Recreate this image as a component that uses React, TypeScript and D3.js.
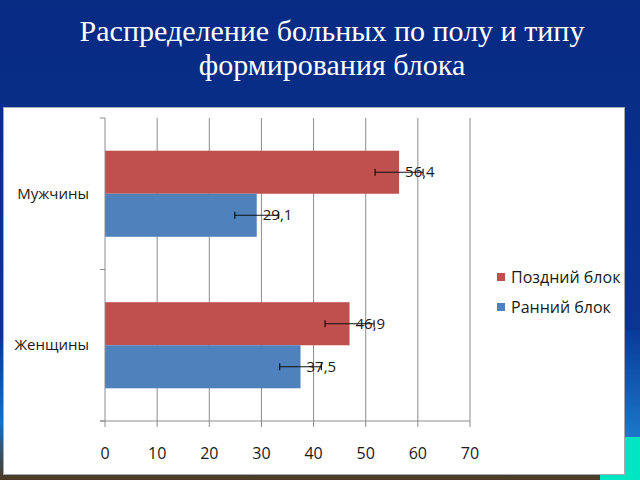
import React from "react";
import * as d3 from "d3";

const categories = ["Мужчины", "Женщины"];
const seriesNames = ["Поздний блок", "Ранний блок"];
const lateValues = [56.4, 46.9];
const earlyValues = [29.1, 37.5];
const lateErrors = [4.6, 4.7];
const earlyErrors = [4.2, 4.0];
const xTicks = [0, 10, 20, 30, 40, 50, 60, 70];
const titleLines = ["Распределение больных по полу и типу", "формирования блока"];

const colors = ["#c0504d", "#4f81bd"];
const font = "'Open Sans', 'Noto Sans', sans-serif";

const App = () => {
  const width = 640;
  const height = 480;

  const x = d3.scaleLinear().domain([0, 70]).range([105, 470]);
  const y = d3.scaleBand().domain(categories).range([118, 421]);
  const ySeries = d3
    .scaleBand()
    .domain(seriesNames)
    .range([0, y.bandwidth()])
    .paddingOuter(0.76);

  // one row per bar
  const bars = categories.flatMap((c, i) => [
    { cat: c, series: seriesNames[0], value: lateValues[i], err: lateErrors[i] },
    { cat: c, series: seriesNames[1], value: earlyValues[i], err: earlyErrors[i] },
  ]);
  const color = d3.scaleOrdinal<string>().domain(seriesNames).range(colors);

  return (
    <svg
      width={width}
      height={height}
      style={{ position: "fixed", left: 0, top: 0, display: "block" }}
    >
      <defs>
        <linearGradient id="bg" x1="0" y1="0" x2="0" y2="1">
          <stop offset="0" stopColor="#072a83" />
          <stop offset="0.7" stopColor="#0a3590" />
          <stop offset="0.88" stopColor="#1a6fc0" />
          <stop offset="1" stopColor="#4c3a22" />
        </linearGradient>
        <linearGradient id="bgr" x1="0" y1="0" x2="0" y2="1">
          <stop offset="0" stopColor="#0a3a98" />
          <stop offset="1" stopColor="#1c78c8" />
        </linearGradient>
      </defs>
      <rect x={0} y={0} width={width} height={height} fill="url(#bg)" />
      <rect x={600} y={330} width={40} height={108} fill="url(#bgr)" />
      <rect x={600} y={437} width={40} height={43} fill="#00e6c3" />

      {titleLines.map((t, i) => (
        <text
          key={t}
          x={332}
          y={41 + i * 34}
          textAnchor="middle"
          fill="#ffffff"
          fontFamily="'Liberation Serif', 'Times New Roman', serif"
          fontSize={30}
        >
          {t}
        </text>
      ))}

      <rect x={3.5} y={107.5} width={621} height={367} fill="#ffffff" stroke="#a8a8b0" />

      {/* gridlines */}
      {xTicks.slice(1).map((t) => (
        <line key={t} x1={x(t)} x2={x(t)} y1={118} y2={421} stroke="#8c8c8c" strokeWidth={1} />
      ))}

      {/* bars */}
      {bars.map((b) => (
        <rect
          key={b.cat + b.series}
          x={x(0)}
          y={(y(b.cat) ?? 0) + (ySeries(b.series) ?? 0)}
          width={x(b.value) - x(0)}
          height={ySeries.bandwidth()}
          fill={color(b.series)}
        />
      ))}

      {/* axes */}
      <line x1={x(0)} x2={x(0)} y1={118} y2={421} stroke="#8c8c8c" />
      <line x1={100} x2={x(70)} y1={421} y2={421} stroke="#8c8c8c" />
      {xTicks.map((t) => (
        <line key={t} x1={x(t)} x2={x(t)} y1={421} y2={427} stroke="#8c8c8c" />
      ))}
      {[118, 269.5, 421].map((v) => (
        <line key={v} x1={100} x2={x(0)} y1={v} y2={v} stroke="#8c8c8c" />
      ))}
      {xTicks.map((t) => (
        <text
          key={t}
          x={x(t)}
          y={459}
          textAnchor="middle"
          fontFamily={font}
          fontSize={16}
          fill="#1a1a1a"
        >
          {t}
        </text>
      ))}
      {categories.map((c) => (
        <text
          key={c}
          x={89}
          y={(y(c) ?? 0) + y.bandwidth() / 2 + 5}
          textAnchor="end"
          fontFamily={font}
          fontSize={15}
          fill="#1a1a1a"
        >
          {c}
        </text>
      ))}

      {/* value labels */}
      {bars.map((b) => {
        const cy = (y(b.cat) ?? 0) + (ySeries(b.series) ?? 0) + ySeries.bandwidth() / 2;
        return (
          <text
            key={"l" + b.cat + b.series}
            x={x(b.value) + 6}
            y={cy + 5}
            fontFamily={font}
            fontSize={15}
            fill="#1a1a1a"
          >
            {b.value.toFixed(1).replace(".", ",")}
          </text>
        );
      })}

      {/* error bars */}
      {bars.map((b) => {
        const cy = (y(b.cat) ?? 0) + (ySeries(b.series) ?? 0) + ySeries.bandwidth() / 2;
        const x1 = x(b.value - b.err);
        const x2 = x(b.value + b.err);
        return (
          <g key={"e" + b.cat + b.series} stroke="#111" strokeWidth={1.2}>
            <line x1={x1} x2={x2} y1={cy} y2={cy} />
            <line x1={x1} x2={x1} y1={cy - 3.5} y2={cy + 3.5} />
            <line x1={x2} x2={x2} y1={cy - 3.5} y2={cy + 3.5} />
          </g>
        );
      })}

      {/* legend */}
      {seriesNames.map((s, i) => (
        <g key={s} transform={`translate(497, ${277 + i * 30})`}>
          <rect x={0} y={-4} width={8} height={8} fill={color(s)} />
          <text x={14} y={5.5} fontFamily={font} fontSize={16} fill="#1a1a1a">
            {s}
          </text>
        </g>
      ))}
    </svg>
  );
};

export default App;
